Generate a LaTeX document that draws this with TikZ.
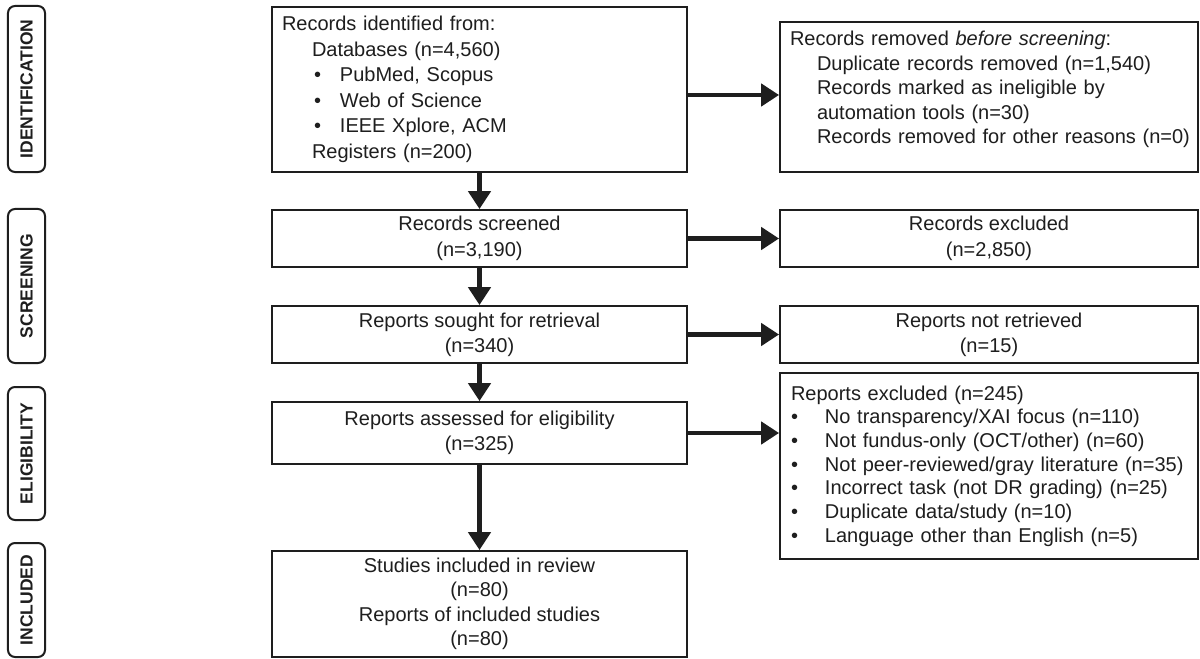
\documentclass[tikz,border=0pt]{standalone}
\usepackage{fontspec}
\setmainfont{Liberation Sans}
\usetikzlibrary{arrows.meta}
\definecolor{ink}{HTML}{1E1E1E}
\begin{document}
\begin{tikzpicture}[x=1bp,y=-1bp,
  box/.style={draw=ink, line width=1.8bp, rectangle, inner sep=0pt, text=ink,
    font=\fontsize{20bp}{25bp}\selectfont, align=center},
  lbox/.style={box, minimum width=415bp},
  rbox/.style={box, minimum width=418bp},
  phase/.style={draw=ink, line width=2bp, rounded corners=7bp, rotate=90,
    minimum height=37bp, inner sep=0pt, text=ink,
    font=\fontsize{17.5bp}{20bp}\selectfont\bfseries},
  arr/.style={draw=ink, line width=4.5bp, -{Triangle[length=18bp,width=22bp]}}
]
\useasboundingbox (0,0) rectangle (1200,659);
\fill[white] (0,0) rectangle (1200,659);

% phase labels
\node[phase, minimum width=166bp] (pid) at (26.5,89) {IDENTIFICATION};
\node[phase, minimum width=154bp] (psc) at (26.5,286) {SCREENING};
\node[phase, minimum width=133bp] (pel) at (26.5,453.5) {ELIGIBILITY};
\node[phase, minimum width=114bp] (pin) at (26.5,600) {INCLUDED};

% left column
\node[box, align=left, text width=395bp, inner xsep=10bp, minimum height=165bp,
  font=\fontsize{20bp}{25.5bp}\selectfont] (ident) at (479.5,89.5) {\mbox{Records identified from:}\\
\mbox{\hspace*{30bp}Databases (n=4,560)}\\
\mbox{\hspace*{32bp}\makebox[26bp][l]{\textbullet}PubMed, Scopus}\\
\mbox{\hspace*{32bp}\makebox[26bp][l]{\textbullet}Web of Science}\\
\mbox{\hspace*{32bp}\makebox[26bp][l]{\textbullet}IEEE Xplore, ACM}\\
\mbox{\hspace*{30bp}Registers (n=200)}};

\node[lbox, minimum height=57bp, font=\fontsize{20bp}{26bp}\selectfont] (scr) at (479.5,238.5) {Records screened\\(n=3,190)};
\node[lbox, minimum height=57bp, font=\fontsize{20bp}{25bp}\selectfont] (sou) at (479.5,334.5) {Reports sought for retrieval\\(n=340)};
\node[lbox, minimum height=62bp, font=\fontsize{20bp}{25bp}\selectfont] (ass) at (479.5,433) {Reports assessed for eligibility\\(n=325)};
\node[lbox, minimum height=106bp, font=\fontsize{20bp}{24.5bp}\selectfont] (inc) at (479.5,604) {Studies included in review\\(n=80)\\Reports of included studies\\(n=80)};

% right column
\node[box, align=left, text width=398bp, inner xsep=10bp, minimum height=150bp,
  font=\fontsize{20bp}{24.5bp}\selectfont] (rem) at (989,97) {\mbox{Records removed \textit{before screening}:}\\
\mbox{\hspace*{27bp}Duplicate records removed (n=1,540)}\\
\mbox{\hspace*{27bp}Records marked as ineligible by}\\
\mbox{\hspace*{27bp}automation tools (n=30)}\\
\mbox{\hspace*{27bp}Records removed for other reasons (n=0)\rule[-19bp]{0pt}{0pt}}};

\node[rbox, minimum height=57bp, font=\fontsize{20bp}{26bp}\selectfont] (exc) at (989,238.5) {Records excluded\\(n=2,850)};
\node[rbox, minimum height=57bp, font=\fontsize{20bp}{25bp}\selectfont] (nre) at (989,334.5) {Reports not retrieved\\(n=15)};
\node[box, align=left, text width=396bp, inner xsep=11bp, minimum height=186bp,
  font=\fontsize{20bp}{23.7bp}\selectfont] (rex) at (989,466) {\mbox{Reports excluded (n=245)}\\
\mbox{\makebox[34bp][l]{\textbullet}No transparency/XAI focus (n=110)}\\
\mbox{\makebox[34bp][l]{\textbullet}Not fundus-only (OCT/other) (n=60)}\\
\mbox{\makebox[34bp][l]{\textbullet}Not peer-reviewed/gray literature (n=35)}\\
\mbox{\makebox[34bp][l]{\textbullet}Incorrect task (not DR grading) (n=25)}\\
\mbox{\makebox[34bp][l]{\textbullet}Duplicate data/study (n=10)}\\
\mbox{\makebox[34bp][l]{\textbullet}Language other than English (n=5)}};

% vertical arrows
\draw[arr] (ident.south) -- (scr.north);
\draw[arr] (scr.south) -- (sou.north);
\draw[arr] (sou.south) -- (ass.north);
\draw[arr] (ass.south) -- (inc.north);

% horizontal arrows
\draw[arr] ([yshift=-5.5bp]ident.east) -- ([yshift=-5.5bp]ident.east -| rem.west);
\draw[arr] (scr.east) -- (exc.west);
\draw[arr] (sou.east) -- (nre.west);
\draw[arr] (ass.east) -- (ass.east -| rex.west);
\end{tikzpicture}
\end{document}
